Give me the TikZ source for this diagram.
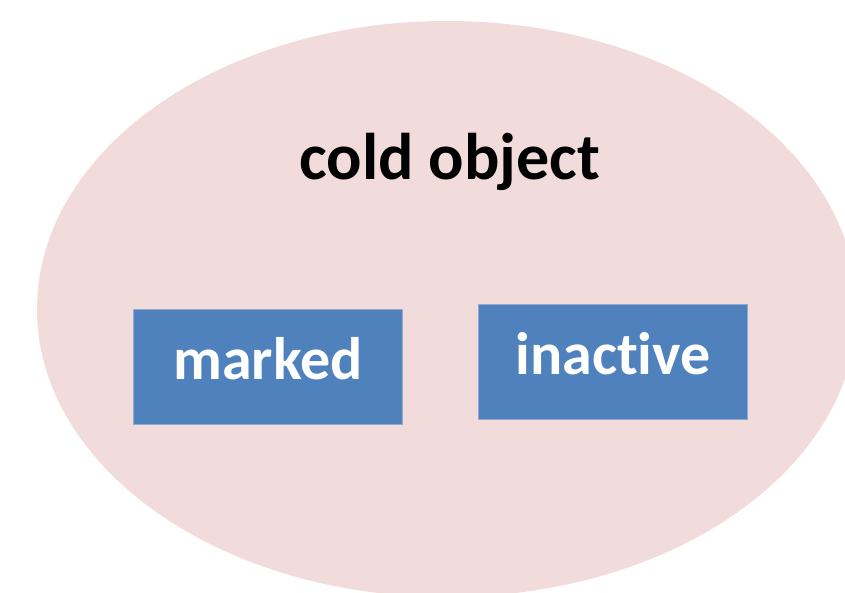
\documentclass[tikz,border=0pt]{standalone}
\usepackage{fontspec}
\setmainfont[RawFeature={-liga;-clig;-dlig}]{Carlito}
\usetikzlibrary{shapes.geometric}
\definecolor{ellfill}{HTML}{F2DCDB}
\definecolor{boxfill}{HTML}{4F81BD}
\definecolor{boxline}{HTML}{8EA9D3}
\begin{document}
\begin{tikzpicture}[x=1pt,y=-1pt,
  bluebox/.style={rectangle, fill=boxfill, draw=boxline, line width=0.8pt, inner sep=0pt,
    anchor=base, text=white, font=\fontsize{60}{60}\selectfont\bfseries},
  title/.style={anchor=base, text=black, font=\fontsize{66}{66}\selectfont\bfseries}]
\useasboundingbox (0,0) rectangle (845,592);
\clip (0,0) rectangle (845,592);
\fill[white] (0,0) rectangle (845,592);
\node[ellipse, fill=ellfill, minimum width=820, minimum height=576, inner sep=0pt] (cold) at (447,309) {};
\node[title] (t) at (450,179) {cold object};
\node[bluebox, minimum width=269, text height=70pt, text depth=45.3pt] (marked) at (268,379) {marked};
\node[bluebox, minimum width=269, text height=70.3pt, text depth=44.7pt] (inactive) at (613,374.3) {inactive};
\end{tikzpicture}
\end{document}
